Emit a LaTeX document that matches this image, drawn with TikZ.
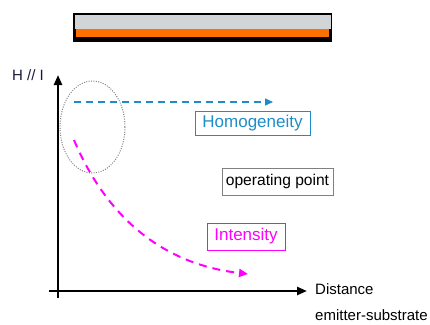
\documentclass[tikz,border=0pt]{standalone}
\usepackage{fontspec}
\setmainfont{Liberation Sans}
\usetikzlibrary{arrows.meta}
\definecolor{hblue}{RGB}{30,140,200}
\definecolor{imag}{RGB}{255,0,255}
\definecolor{barorange}{RGB}{255,112,0}
\definecolor{bargray}{RGB}{210,213,216}
\definecolor{navy}{RGB}{25,25,60}
\tikzset{
  lbl/.style={inner sep=0pt, font=\fontsize{15}{18}\selectfont, anchor=west},
  boxlbl/.style={draw, line width=1pt, inner xsep=3pt, inner ysep=2pt, font=\fontsize{17}{20}\selectfont},
  axis/.style={line width=2.4pt, -{Triangle[length=10pt,width=8pt]}},
}
\begin{document}
\begin{tikzpicture}[x=1pt,y=-1pt]
\useasboundingbox (0,0) rectangle (430,324);
% top bar
\fill[black] (73,13) rectangle (332,42);
\fill[bargray] (74.5,14.5) rectangle (330.5,29);
\fill[barorange] (76,29) rectangle (329,37);
% axes
\coordinate (yb) at (58,298);
\coordinate (yt) at (58,75);
\coordinate (xl) at (49,291);
\coordinate (xr) at (307,291);
\draw[axis] (yb) -- (yt);
\draw[axis] (xl) -- (xr);
% labels
\node[lbl, text=navy] (hi) at (12,75) {H // I};
\node[lbl] (dist) at (315,289) {Distance};
\node[lbl] (emsub) at (315,315) {emitter-substrate};
% ellipse
\draw[gray, line width=1pt, dash pattern=on 1pt off 1.4pt] (92.5,127) ellipse [x radius=32.5, y radius=46];
% homogeneity arrow
\coordinate (hs) at (74,102);
\coordinate (he) at (273,102);
\draw[hblue, line width=1.5pt, dash pattern=on 7pt off 5pt, -{Triangle[length=8pt,width=7pt]}] (hs) -- (he);
\node[boxlbl, draw=hblue, text=hblue, minimum width=115, minimum height=24] (hom) at (252.5,123) {Homogeneity};
% operating point
\node[draw=gray, line width=1pt, inner sep=0pt, minimum width=111, minimum height=27, font=\fontsize{15.6}{18}\selectfont] (op) at (277.5,181.5) {operating point};
% intensity curve
\coordinate (is) at (74,140);
\coordinate (ie) at (248,274);
\draw[imag, line width=2pt, dash pattern=on 8pt off 6pt, -{Triangle[length=9pt,width=8pt]}] (is) .. controls (110,225) and (170,265) .. (ie);
\node[boxlbl, draw=imag, text=imag, minimum width=78, minimum height=27] (int) at (246,236.5) {Intensity};
\end{tikzpicture}
\end{document}
